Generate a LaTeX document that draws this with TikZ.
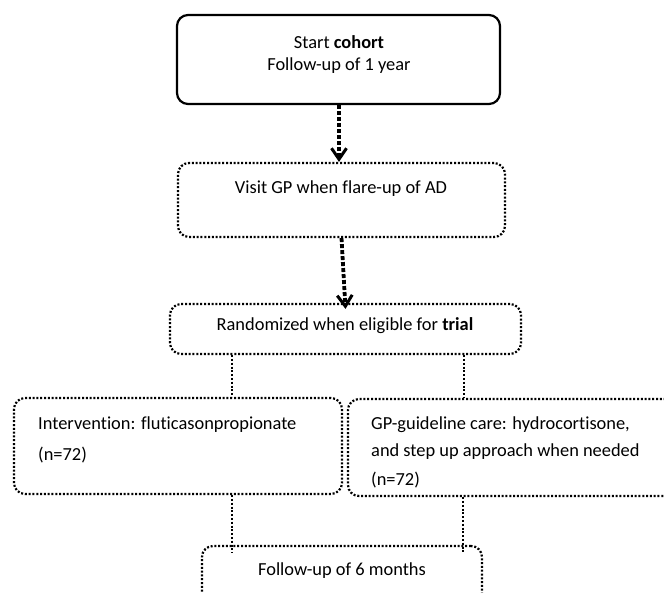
\documentclass[tikz,border=0pt]{standalone}
\usepackage{fontspec}
\setmainfont[Ligatures=NoCommon]{Carlito}
\usetikzlibrary{arrows.meta}
\tikzset{
  solidbox/.style={draw=black, line width=2.2pt, rounded corners=11pt, inner sep=0pt},
  dotbox/.style={draw=black, line width=2.2pt, dash pattern=on 2pt off 1.8pt, rounded corners=11pt, inner sep=0pt},
  txt/.style={inner sep=0pt, font=\fontsize{18.4}{21}\selectfont},
  ltxt/.style={txt, anchor=west},
  bigarrow/.style={line width=3.8pt, dash pattern=on 4pt off 2pt, -{Straight Barb[length=11pt,width=15pt,line width=3pt]}},
  thinline/.style={line width=2.6pt, dash pattern=on 2pt off 1.8pt}
}
\begin{document}
\begin{tikzpicture}[x=1pt,y=-1pt]
\useasboundingbox (0,0) rectangle (664,592);
\clip (0,0) rectangle (664,592);
% boxes
\node[solidbox, minimum width=323pt, minimum height=89pt] (b1) at (338.5,59.5) {};
\node[dotbox, minimum width=327pt, minimum height=74pt] (b2) at (341.5,200) {};
\node[dotbox, minimum width=351pt, minimum height=50pt] (b3) at (345.5,329) {};
\node[dotbox, minimum width=328pt, minimum height=96pt] (b4l) at (178,446) {};
\node[dotbox, minimum width=340pt, minimum height=97pt] (b4r) at (518,447.5) {};
\node[dotbox, minimum width=280pt, minimum height=80pt] (b5) at (342,586) {};
% texts
\node[txt] (t1a) at (339,42) {Start \textbf{cohort}};
\node[txt] (t1b) at (339,66) {Follow-up of 1 year};
\node[txt] (t2) at (341,189) {Visit GP when flare-up of AD};
\node[txt] (t3) at (345,326) {Randomized when eligible for \textbf{trial}};
\node[ltxt] (t4a) at (38,425) {Intervention: fluticasonpropionate};
\node[ltxt] (t4b) at (38,455) {(n=72)};
\node[ltxt] (t5a) at (371,425) {GP-guideline care: hydrocortisone,};
\node[ltxt] (t5b) at (371,452) {and step up approach when needed};
\node[ltxt] (t5c) at (371,480) {(n=72)};
\node[txt] (t6) at (342,571) {Follow-up of 6 months};
% connectors
\coordinate (cl) at (232,0);
\coordinate (cr) at (464,0);
\coordinate (cl2) at (232,0);
\coordinate (cr2) at (463,0);
\draw[bigarrow] ([xshift=0.5pt]b1.south) -- ([xshift=-2.5pt]b2.north);
\draw[bigarrow] (b2.south) -- ([yshift=-6pt]b3.north);
\draw[thinline] (b3.south -| cl) -- (b4l.north -| cl);
\draw[thinline] (b3.south -| cr) -- (b4r.north -| cr);
\draw[thinline] (b4l.south -| cl2) -- ([yshift=-8pt]b5.north -| cl2);
\draw[thinline] (b4r.south -| cr2) -- ([yshift=-8pt]b5.north -| cr2);
\end{tikzpicture}
\end{document}
